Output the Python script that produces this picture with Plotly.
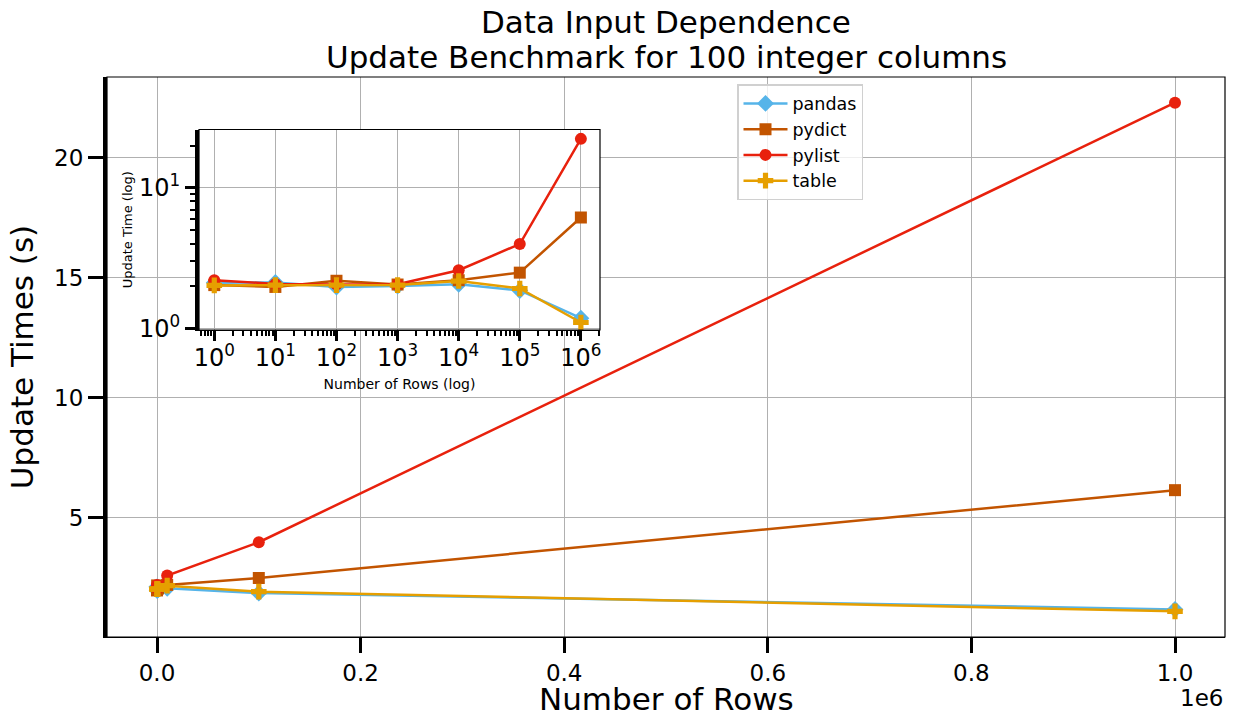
import plotly.graph_objects as go

rows = [1, 10, 100, 1000, 10000, 100000, 1000000]
series_names = ["pandas", "pydict", "pylist", "table"]
pandas_t = [2.11, 2.12, 1.97, 2.00, 2.06, 1.86, 1.18]
pydict_t = [2.03, 1.97, 2.18, 2.05, 2.20, 2.49, 6.15]
pylist_t = [2.20, 2.07, 2.05, 2.06, 2.59, 3.98, 22.3]
table_t = [2.02, 2.03, 2.03, 2.03, 2.17, 1.92, 1.10]
values = [pandas_t, pydict_t, pylist_t, table_t]

colors = ["#56B4E9", "#C25400", "#E8210D", "#E69F00"]
symbols = ["diamond", "square", "circle", "cross"]
msizes = [13, 12, 12, 13]

main_xtick_vals = [0, 200000, 400000, 600000, 800000, 1000000]
main_xtick_text = ["0.0", "0.2", "0.4", "0.6", "0.8", "1.0"]
main_ytick_vals = [5, 10, 15, 20]
inset_xtick_vals = rows
inset_xtick_text = ["10<sup>%d</sup>" % i for i in range(7)]
inset_ytick_vals = [1, 10]
inset_ytick_text = ["10<sup>0</sup>", "10<sup>1</sup>"]
inset_xminor = [m * 10 ** d for d in range(-1, 7) for m in range(2, 10)]
inset_yminor = [2, 3, 4, 5, 6, 7, 8, 9, 20]

FONT = "DejaVu Sans"
fig = go.Figure()

for name, vals, c, s, ms in zip(series_names, values, colors, symbols, msizes):
    fig.add_trace(go.Scatter(x=rows, y=vals, name=name, mode="lines+markers",
                             line=dict(color=c, width=2.5),
                             marker=dict(symbol=s, size=ms, color=c),
                             xaxis="x", yaxis="y"))
for name, vals, c, s, ms in zip(series_names, values, colors, symbols, msizes):
    fig.add_trace(go.Scatter(x=rows, y=vals, name=name, mode="lines+markers",
                             line=dict(color=c, width=2.5),
                             marker=dict(symbol=s, size=ms, color=c),
                             xaxis="x2", yaxis="y2", showlegend=False))

L, R, T, B = 107, 9, 77, 82
W, H = 1234, 719
pw, ph = W - L - R, H - T - B

def dx(px):
    return (px - L) / pw

def dy(py):
    return (H - B - py) / ph

fig.update_layout(
    width=W, height=H,
    margin=dict(l=L, r=R, t=T, b=B, autoexpand=False),
    paper_bgcolor="white", plot_bgcolor="white",
    font=dict(family=FONT, color="black"),
    showlegend=True,
    legend=dict(x=dx(737), y=dy(84), xanchor="left", yanchor="top",
                font=dict(size=17.5, family=FONT), bgcolor="rgba(255,255,255,0.8)",
                bordercolor="#d0d0d0", borderwidth=1.5, itemwidth=44),
    xaxis=dict(domain=[0, 1], range=[-0.04912e6, 1.04912e6],
               tickmode="array", tickvals=main_xtick_vals, ticktext=main_xtick_text,
               ticks="outside", ticklen=15, tickwidth=3, tickcolor="black",
               tickfont=dict(size=23), showgrid=True, gridcolor="#b0b0b0", gridwidth=1,
               showline=True, linecolor="black", linewidth=1, zeroline=False),
    yaxis=dict(domain=[0, 1], range=[0.03, 23.37],
               tickmode="array", tickvals=main_ytick_vals,
               ticks="outside", ticklen=15, tickwidth=3, tickcolor="black",
               tickfont=dict(size=23), showgrid=True, gridcolor="#b0b0b0", gridwidth=1,
               showline=True, linecolor="black", linewidth=4, zeroline=False,
               title=dict(text="Update Times (s)", font=dict(size=31), standoff=12)),
    xaxis2=dict(domain=[dx(199), dx(600)], anchor="y2", type="log",
                range=[-0.25, 6.313],
                tickmode="array", tickvals=inset_xtick_vals, ticktext=inset_xtick_text,
                ticks="outside", ticklen=10, tickwidth=3, tickcolor="black",
                ticklabelstandoff=-4,
                minor=dict(tickmode="array", tickvals=inset_xminor, ticks="outside",
                           ticklen=5, tickwidth=1.5, tickcolor="black", showgrid=False),
                tickfont=dict(size=24), showgrid=True, gridcolor="#b0b0b0", gridwidth=1,
                showline=True, linecolor="black", linewidth=1, zeroline=False,
                title=dict(text="Number of Rows (log)", font=dict(size=14), standoff=8)),
    yaxis2=dict(domain=[dy(330), dy(129.5)], anchor="x2", type="log",
                range=[-0.012, 1.415],
                tickmode="array", tickvals=inset_ytick_vals, ticktext=inset_ytick_text,
                ticks="outside", ticklen=10, tickwidth=3, tickcolor="black",
                minor=dict(tickmode="array", tickvals=inset_yminor, ticks="outside",
                           ticklen=5, tickwidth=1.5, tickcolor="black", showgrid=False),
                tickfont=dict(size=24), showgrid=True, gridcolor="#b0b0b0", gridwidth=1,
                showline=True, linecolor="black", linewidth=4, zeroline=False,
                title=dict(text="Update Time (log)", font=dict(size=13), standoff=4)),
    shapes=[
        dict(type="rect", xref="x domain", yref="y domain", x0=0, x1=1, y0=0, y1=1,
             line=dict(color="black", width=1.2), layer="above"),
        dict(type="rect", xref="x2 domain", yref="y2 domain", x0=0, x1=1, y0=0, y1=1,
             line=dict(color="black", width=1.2), layer="above"),
    ],
    annotations=[
        dict(text="Data Input Dependence", xref="paper", yref="paper", x=0.5, y=dy(22),
             xanchor="center", yanchor="middle", showarrow=False, font=dict(size=31)),
        dict(text="Update Benchmark for 100 integer columns", xref="paper", yref="paper",
             x=0.5, y=dy(57), xanchor="center", yanchor="middle", showarrow=False,
             font=dict(size=31)),
        dict(text="Number of Rows", xref="paper", yref="paper", x=0.5, y=dy(719),
             xanchor="center", yanchor="bottom", showarrow=False, font=dict(size=31)),
        dict(text="1e6", xref="paper", yref="paper", x=1.0, y=dy(698),
             xanchor="right", yanchor="middle", showarrow=False, font=dict(size=23)),
    ],
)

fig.write_html("out.html", config={"displayModeBar": False},
               post_script="document.body.style.margin='0px';document.body.style.overflow='hidden';")
